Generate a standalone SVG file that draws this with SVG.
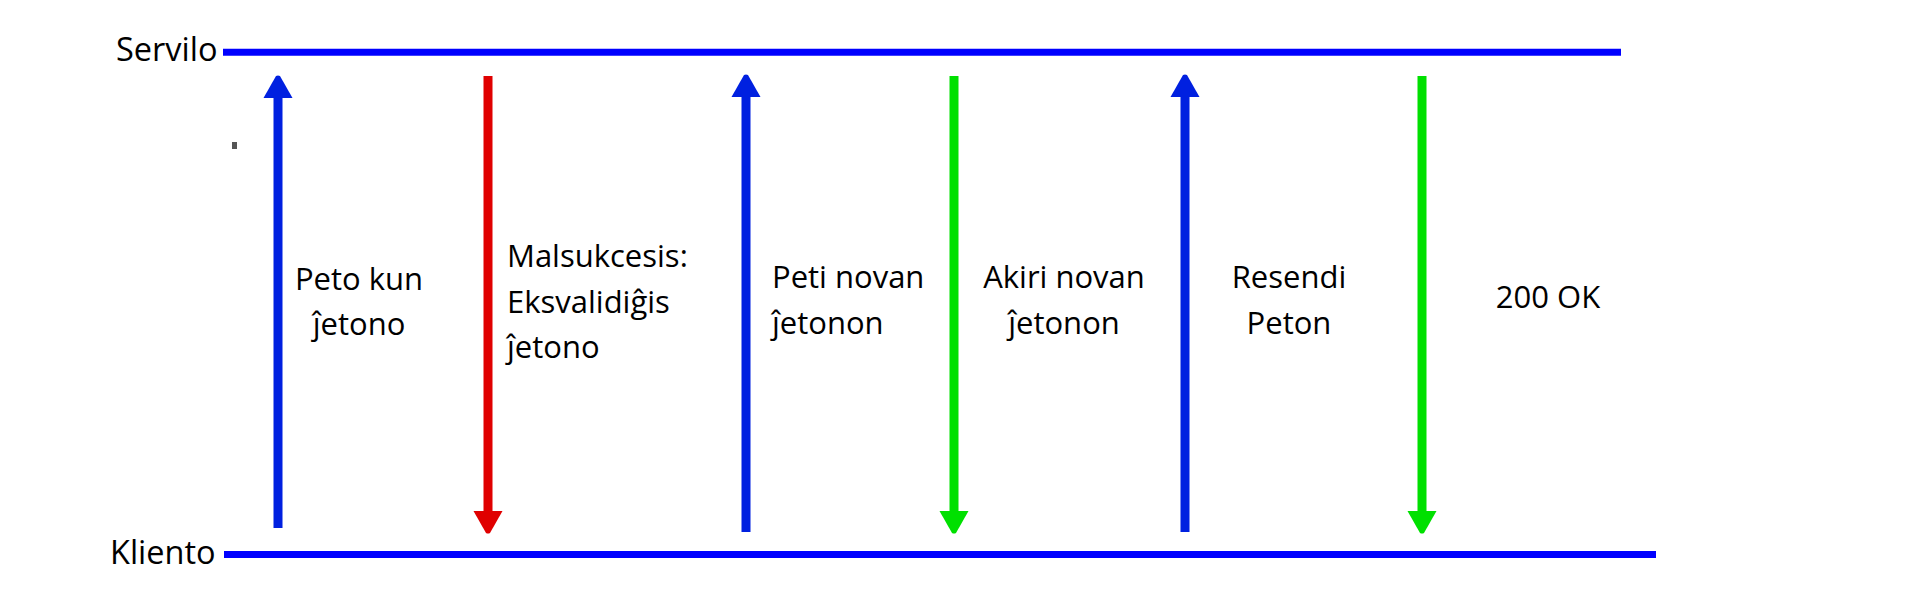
<svg xmlns="http://www.w3.org/2000/svg" width="1920" height="600" viewBox="0 0 1920 600">
  <style>
    .lbl { font-family: "Open Sans", "Liberation Sans", sans-serif; font-size: 31px; fill: #000; }
    .role { font-family: "Open Sans", "Liberation Sans", sans-serif; font-size: 32.5px; fill: #000; }
    .lane { stroke: #0000ff; stroke-width: 7; fill: none; }
    .blue { stroke: #0020e0; stroke-width: 9; fill: none; }
    .red { stroke: #e00000; stroke-width: 9; fill: none; }
    .green { stroke: #00e000; stroke-width: 9; fill: none; }
  </style>
  <defs>
    <marker id="hb" markerUnits="userSpaceOnUse" markerWidth="23" markerHeight="29" viewBox="0 0 23 29" refX="0" refY="14.5" orient="auto" overflow="visible">
      <path d="M0,0 L22,12.5 Q23,14.5 22,16.5 L0,29 z" fill="#0020e0"/>
    </marker>
    <marker id="hr" markerUnits="userSpaceOnUse" markerWidth="23" markerHeight="29" viewBox="0 0 23 29" refX="0" refY="14.5" orient="auto" overflow="visible">
      <path d="M0,0 L22,12.5 Q23,14.5 22,16.5 L0,29 z" fill="#e00000"/>
    </marker>
    <marker id="hg" markerUnits="userSpaceOnUse" markerWidth="23" markerHeight="29" viewBox="0 0 23 29" refX="0" refY="14.5" orient="auto" overflow="visible">
      <path d="M0,0 L22,12.5 Q23,14.5 22,16.5 L0,29 z" fill="#00e000"/>
    </marker>
  </defs>
  <rect width="1920" height="600" fill="#fff"/>

  <g id="servilo">
    <text class="role" x="116" y="61">Servilo</text>
    <line class="lane" x1="223" y1="52.3" x2="1621" y2="52.3"/>
  </g>
  <g id="kliento">
    <text class="role" x="110" y="564">Kliento</text>
    <line class="lane" x1="224" y1="554.5" x2="1656" y2="554.5"/>
  </g>
  <rect id="dot" x="232" y="142" width="5" height="7" fill="#555"/>

  <g id="connectors">
    <line class="blue" x1="278" y1="528" x2="278" y2="98" marker-end="url(#hb)"/>
    <line class="red" x1="488" y1="76" x2="488" y2="511" marker-end="url(#hr)"/>
    <line class="blue" x1="746" y1="532" x2="746" y2="97" marker-end="url(#hb)"/>
    <line class="green" x1="954" y1="76" x2="954" y2="511" marker-end="url(#hg)"/>
    <line class="blue" x1="1185" y1="532" x2="1185" y2="97" marker-end="url(#hb)"/>
    <line class="green" x1="1422" y1="76" x2="1422" y2="511" marker-end="url(#hg)"/>
  </g>

  <g id="label1">
    <text class="lbl" x="359" y="290" text-anchor="middle">Peto kun</text>
    <text class="lbl" x="359" y="335" text-anchor="middle">ĵetono</text>
  </g>
  <g id="label2">
    <text class="lbl" x="507" y="267">Malsukcesis:</text>
    <text class="lbl" x="507" y="313">Eksvalidiĝis</text>
    <text class="lbl" x="507" y="358">ĵetono</text>
  </g>
  <g id="label3">
    <text class="lbl" x="772" y="288">Peti novan</text>
    <text class="lbl" x="772" y="334">ĵetonon</text>
  </g>
  <g id="label4">
    <text class="lbl" x="1064" y="288" text-anchor="middle">Akiri novan</text>
    <text class="lbl" x="1064" y="334" text-anchor="middle">ĵetonon</text>
  </g>
  <g id="label5">
    <text class="lbl" x="1289" y="288" text-anchor="middle">Resendi</text>
    <text class="lbl" x="1289" y="334" text-anchor="middle">Peton</text>
  </g>
  <g id="label6">
    <text class="lbl" x="1548" y="308" text-anchor="middle">200 OK</text>
  </g>
</svg>
